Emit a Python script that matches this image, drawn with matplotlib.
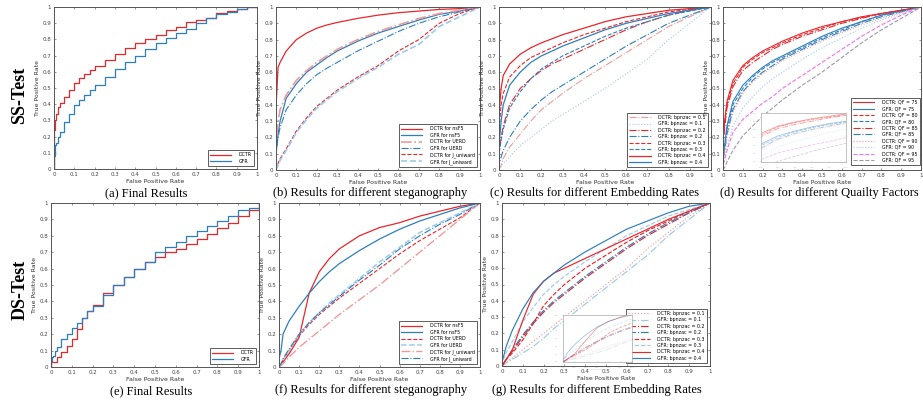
import matplotlib
matplotlib.use("Agg")
import matplotlib.pyplot as plt

W, H = 923, 405

# colours
RED = "#e8262b"
BLUE = "#2e7ebf"
LRED = "#f29a9a"
LBLUE = "#9dcbea"
MAG = "#f070f0"
GRAY = "#9a9aae"

# ---- data ----
# fine grid for the two "Final Results" panels
fpr_fine = [0, 0, 0.005, 0.01, 0.02, 0.03, 0.05, 0.075, 0.1, 0.125, 0.15, 0.175, 0.2,
            0.25, 0.3, 0.35, 0.4, 0.45, 0.5, 0.55, 0.6, 0.65, 0.7, 0.75, 0.8, 0.85,
            0.9, 0.95, 1.0]
# coarse grid for the other panels
fpr = [0, 0, 0.01, 0.02, 0.05, 0.1, 0.15, 0.2, 0.25, 0.3, 0.4, 0.5, 0.6, 0.7, 0.8, 0.9, 1.0]

# (a) SS final
a_dctr = [0, 0.24, 0.3, 0.34, 0.38, 0.41, 0.445, 0.49, 0.53, 0.56, 0.585, 0.61, 0.635,
          0.675, 0.71, 0.745, 0.775, 0.805, 0.83, 0.855, 0.877, 0.905, 0.92, 0.935,
          0.96, 0.975, 0.985, 1.0, 1.0]
a_gfr = [0, 0.08, 0.15, 0.16, 0.2, 0.23, 0.29, 0.34, 0.395, 0.425, 0.455, 0.485, 0.517,
         0.57, 0.62, 0.66, 0.70, 0.74, 0.775, 0.81, 0.84, 0.865, 0.9, 0.93, 0.955,
         0.97, 0.985, 1.0, 1.0]

# (b) SS steganography
b_dctr_nsf5 = [0, 0.38, 0.63, 0.66, 0.73, 0.8, 0.84, 0.87, 0.89, 0.905, 0.93, 0.95, 0.965, 0.975, 0.985, 0.99, 1.0]
b_gfr_nsf5 = [0, 0.1, 0.22, 0.3, 0.44, 0.53, 0.6, 0.645, 0.69, 0.73, 0.79, 0.84, 0.88, 0.92, 0.955, 0.975, 1.0]
b_dctr_uerd = [0, 0.15, 0.3, 0.37, 0.46, 0.55, 0.61, 0.66, 0.7, 0.74, 0.8, 0.85, 0.89, 0.93, 0.96, 0.98, 1.0]
b_gfr_uerd = [0, 0.1, 0.2, 0.26, 0.37, 0.46, 0.53, 0.585, 0.625, 0.66, 0.73, 0.79, 0.85, 0.9, 0.94, 0.97, 1.0]
b_dctr_juni = [0, 0.0, 0.04, 0.07, 0.13, 0.24, 0.32, 0.39, 0.44, 0.49, 0.57, 0.64, 0.73, 0.8, 0.9, 0.96, 1.0]
b_gfr_juni = [0, 0.0, 0.03, 0.06, 0.12, 0.23, 0.31, 0.38, 0.43, 0.48, 0.56, 0.63, 0.71, 0.77, 0.88, 0.94, 1.0]

# (c) SS embedding rates
c_dctr_01 = [0, 0.0, 0.03, 0.07, 0.14, 0.22, 0.3, 0.37, 0.42, 0.47, 0.56, 0.64, 0.72, 0.8, 0.88, 0.94, 1.0]
c_gfr_01 = [0, 0.0, 0.02, 0.04, 0.08, 0.15, 0.2, 0.25, 0.3, 0.34, 0.42, 0.5, 0.59, 0.68, 0.8, 0.9, 1.0]
c_dctr_02 = [0, 0.1, 0.2, 0.27, 0.4, 0.5, 0.56, 0.61, 0.65, 0.68, 0.74, 0.8, 0.86, 0.91, 0.95, 0.98, 1.0]
c_gfr_02 = [0, 0.03, 0.08, 0.12, 0.2, 0.3, 0.37, 0.43, 0.48, 0.52, 0.6, 0.68, 0.76, 0.83, 0.9, 0.95, 1.0]
c_dctr_03 = [0, 0.25, 0.4, 0.47, 0.57, 0.64, 0.69, 0.72, 0.75, 0.78, 0.83, 0.87, 0.91, 0.94, 0.97, 0.985, 1.0]
c_gfr_03 = [0, 0.1, 0.18, 0.25, 0.38, 0.48, 0.56, 0.62, 0.66, 0.7, 0.76, 0.82, 0.87, 0.91, 0.95, 0.975, 1.0]
c_dctr_04 = [0, 0.35, 0.5, 0.58, 0.65, 0.71, 0.75, 0.78, 0.805, 0.83, 0.87, 0.91, 0.94, 0.96, 0.98, 0.99, 1.0]
c_gfr_04 = [0, 0.15, 0.3, 0.4, 0.52, 0.6, 0.66, 0.7, 0.73, 0.76, 0.81, 0.86, 0.9, 0.93, 0.96, 0.98, 1.0]

# (d) SS quality factors
d_dctr_75 = [0, 0.2, 0.32, 0.42, 0.55, 0.64, 0.69, 0.73, 0.76, 0.79, 0.84, 0.88, 0.91, 0.94, 0.96, 0.98, 1.0]
d_gfr_75 = [0, 0.08, 0.17, 0.27, 0.42, 0.52, 0.58, 0.63, 0.67, 0.7, 0.76, 0.82, 0.87, 0.91, 0.95, 0.975, 1.0]
d_dctr_80 = [0, 0.18, 0.3, 0.4, 0.53, 0.63, 0.68, 0.72, 0.75, 0.78, 0.83, 0.87, 0.91, 0.935, 0.96, 0.98, 1.0]
d_gfr_80 = [0, 0.07, 0.15, 0.25, 0.4, 0.5, 0.57, 0.62, 0.66, 0.69, 0.75, 0.81, 0.86, 0.91, 0.95, 0.975, 1.0]
d_dctr_85 = [0, 0.15, 0.28, 0.38, 0.51, 0.61, 0.66, 0.7, 0.74, 0.77, 0.82, 0.86, 0.9, 0.93, 0.96, 0.98, 1.0]
d_gfr_85 = [0, 0.06, 0.13, 0.22, 0.37, 0.48, 0.55, 0.6, 0.64, 0.68, 0.74, 0.8, 0.85, 0.9, 0.94, 0.97, 1.0]
d_dctr_90 = [0, 0.05, 0.12, 0.2, 0.35, 0.47, 0.54, 0.59, 0.63, 0.67, 0.73, 0.79, 0.84, 0.89, 0.93, 0.965, 1.0]
d_gfr_90 = [0, 0.03, 0.08, 0.14, 0.27, 0.38, 0.45, 0.51, 0.56, 0.6, 0.68, 0.75, 0.81, 0.87, 0.92, 0.96, 1.0]
d_dctr_95 = [0, 0.03, 0.07, 0.12, 0.23, 0.31, 0.36, 0.41, 0.45, 0.5, 0.58, 0.66, 0.74, 0.82, 0.89, 0.95, 1.0]
d_gfr_95 = [0, 0.0, 0.02, 0.05, 0.12, 0.21, 0.27, 0.33, 0.38, 0.43, 0.52, 0.6, 0.69, 0.78, 0.86, 0.93, 1.0]

# (e) DS final
e_dctr = [0, 0.03, 0.03, 0.03, 0.03, 0.06, 0.09, 0.13, 0.17, 0.23, 0.3, 0.34, 0.38,
          0.45, 0.5, 0.55, 0.6, 0.64, 0.67, 0.70, 0.72, 0.75, 0.78, 0.81, 0.845,
          0.88, 0.92, 0.955, 1.0]
e_gfr = [0, 0.03, 0.06, 0.07, 0.1, 0.12, 0.17, 0.2, 0.24, 0.27, 0.3, 0.34, 0.37,
         0.44, 0.5, 0.55, 0.6, 0.64, 0.7, 0.73, 0.76, 0.8, 0.83, 0.86, 0.89,
         0.92, 0.96, 0.97, 1.0]

# (f) DS steganography
f_dctr_nsf5 = [0, 0.0, 0.02, 0.03, 0.08, 0.18, 0.45, 0.58, 0.66, 0.72, 0.8, 0.85, 0.88, 0.92, 0.95, 0.98, 1.0]
f_gfr_nsf5 = [0, 0.05, 0.1, 0.2, 0.28, 0.37, 0.45, 0.52, 0.58, 0.63, 0.71, 0.78, 0.84, 0.89, 0.93, 0.97, 1.0]
f_dctr_uerd = [0, 0.0, 0.02, 0.04, 0.1, 0.19, 0.26, 0.32, 0.37, 0.42, 0.51, 0.6, 0.69, 0.77, 0.84, 0.91, 1.0]
f_gfr_uerd = [0, 0.0, 0.02, 0.04, 0.1, 0.2, 0.27, 0.33, 0.39, 0.44, 0.54, 0.64, 0.73, 0.82, 0.88, 0.94, 1.0]
f_dctr_juni = [0, 0.0, 0.01, 0.02, 0.06, 0.12, 0.17, 0.22, 0.27, 0.32, 0.41, 0.5, 0.6, 0.7, 0.8, 0.9, 1.0]
f_gfr_juni = [0, 0.0, 0.02, 0.05, 0.11, 0.2, 0.27, 0.33, 0.38, 0.43, 0.53, 0.62, 0.72, 0.8, 0.87, 0.93, 1.0]

# (g) DS embedding rates
g_dctr_01 = [0, 0.0, 0.01, 0.02, 0.05, 0.1, 0.15, 0.2, 0.25, 0.3, 0.4, 0.5, 0.6, 0.72, 0.82, 0.92, 1.0]
g_gfr_01 = [0, 0.0, 0.01, 0.02, 0.04, 0.08, 0.12, 0.17, 0.23, 0.28, 0.38, 0.48, 0.58, 0.68, 0.8, 0.9, 1.0]
g_dctr_02 = [0, 0.0, 0.02, 0.04, 0.09, 0.18, 0.26, 0.33, 0.39, 0.44, 0.54, 0.63, 0.72, 0.8, 0.87, 0.94, 1.0]
g_gfr_02 = [0, 0.0, 0.02, 0.04, 0.1, 0.19, 0.27, 0.34, 0.4, 0.45, 0.55, 0.64, 0.73, 0.81, 0.88, 0.94, 1.0]
g_dctr_03 = [0, 0.0, 0.02, 0.04, 0.08, 0.16, 0.26, 0.37, 0.44, 0.5, 0.6, 0.68, 0.76, 0.83, 0.89, 0.95, 1.0]
g_gfr_03 = [0, 0.02, 0.05, 0.08, 0.15, 0.27, 0.36, 0.44, 0.5, 0.55, 0.64, 0.72, 0.8, 0.86, 0.92, 0.96, 1.0]
g_dctr_04 = [0, 0.0, 0.02, 0.04, 0.1, 0.28, 0.44, 0.52, 0.57, 0.6, 0.66, 0.72, 0.78, 0.84, 0.9, 0.95, 1.0]
g_gfr_04 = [0, 0.03, 0.07, 0.12, 0.22, 0.35, 0.45, 0.52, 0.57, 0.62, 0.7, 0.77, 0.84, 0.89, 0.94, 0.98, 1.0]

captions = ["(a) Final Results", "(b) Results for different steganography",
            "(c) Results for different Embedding Rates", "(d) Results for different Quailty Factors",
            "(e) Final Results", "(f) Results for different steganography",
            "(g) Results for different Embedding Rates"]


def rect(x0, y0, x1, y1):
    return [x0 / W, 1 - y1 / H, (x1 - x0) / W, (y1 - y0) / H]


def style_ax(ax):
    ax.set_xlim(0, 1)
    ax.set_ylim(0, 1)
    ticks = [i / 10 for i in range(11)]
    labels = ["0", "0.1", "0.2", "0.3", "0.4", "0.5", "0.6", "0.7", "0.8", "0.9", "1"]
    ax.set_xticks(ticks)
    ax.set_yticks(ticks)
    ax.set_xticklabels(labels)
    ax.set_yticklabels(labels)
    ax.tick_params(direction="in", length=1.5, width=0.4, labelsize=4, colors="#444444",
                   top=True, right=True, pad=2)
    for s in ax.spines.values():
        s.set_color("#555555")
        s.set_linewidth(0.7)
    ax.set_xlabel("False Positive Rate", fontsize=4.5, labelpad=1.5, color="#333333")
    ax.set_ylabel("True Positive Rate", fontsize=4.5, labelpad=2, color="#333333")


def add_legend(ax, anchor=None):
    kw = dict(loc="lower right", fontsize=3.4, handlelength=4.5, labelspacing=0.3,
              borderaxespad=0.6, frameon=True, fancybox=False, borderpad=0.5,
              handletextpad=1.6)
    if anchor is not None:
        kw["bbox_to_anchor"] = anchor
        kw["bbox_transform"] = fig.transFigure
        kw["borderaxespad"] = 0
    leg = ax.legend(**kw)
    leg.get_frame().set_edgecolor("#333333")
    leg.get_frame().set_linewidth(0.7)


def add_inset(rc, curves, xl, yl):
    ins = fig.add_axes(rc)
    for y, c, ls in curves:
        ins.plot(fpr, y, color=c, ls=ls, lw=0.6, alpha=0.45)
    ins.set_xlim(*xl)
    ins.set_ylim(*yl)
    ins.tick_params(direction="in", length=1, width=0.3, labelsize=1.5, colors="#bbbbbb")
    for s in ins.spines.values():
        s.set_color("#aaaaaa")
        s.set_linewidth(0.5)
    ins.set_xlabel("False Positive Rate", fontsize=1.5, labelpad=0.5, color="#bbbbbb")


fig = plt.figure(figsize=(W / 100, H / 100), dpi=100)

# ---------- (a) ----------
ax = fig.add_axes(rect(54, 7, 257, 169))
ax.plot(fpr_fine, a_dctr, color=RED, lw=0.9, drawstyle="steps-post", label="DCTR")
ax.plot(fpr_fine, a_gfr, color=BLUE, lw=0.9, drawstyle="steps-post", label="GFR")
style_ax(ax)
add_legend(ax)

# ---------- (b) ----------
ax = fig.add_axes(rect(276, 7, 480, 170))
ax.plot(fpr, b_dctr_nsf5, color=RED, lw=0.9, ls="-", label="DCTR for nsF5")
ax.plot(fpr, b_gfr_nsf5, color=BLUE, lw=0.9, ls="-", label="GFR for nsF5")
ax.plot(fpr, b_dctr_uerd, color=LRED, lw=1.2, ls="-.", label="DCTR for UERD")
ax.plot(fpr, b_gfr_uerd, color=BLUE, lw=0.8, ls="-.", label="GFR for UERD")
ax.plot(fpr, b_dctr_juni, color=RED, lw=0.8, ls="--", label="DCTR for J_uniward")
ax.plot(fpr, b_gfr_juni, color=LBLUE, lw=1.2, ls="--", label="GFR for J_uniward")
style_ax(ax)
add_legend(ax)

# ---------- (c) ----------
ax = fig.add_axes(rect(499, 7, 711, 170))
ax.plot(fpr, c_dctr_01, color=LRED, lw=0.8, ls="-.", label="DCTR: bpnzac = 0.1")
ax.plot(fpr, c_gfr_01, color=LBLUE, lw=0.8, ls=":", label="GFR: bpnzac = 0.1")
ax.plot(fpr, c_dctr_02, color=RED, lw=0.8, ls="-.", label="DCTR: bpnzac = 0.2")
ax.plot(fpr, c_gfr_02, color=BLUE, lw=0.8, ls="-.", label="GFR: bpnzac = 0.2")
ax.plot(fpr, c_dctr_03, color=RED, lw=0.8, ls="--", label="DCTR: bpnzac = 0.3")
ax.plot(fpr, c_gfr_03, color=BLUE, lw=0.8, ls="--", label="GFR: bpnzac = 0.3")
ax.plot(fpr, c_dctr_04, color=RED, lw=0.9, ls="-", label="DCTR: bpnzac = 0.4")
ax.plot(fpr, c_gfr_04, color=BLUE, lw=0.9, ls="-", label="GFR: bpnzac = 0.4")
style_ax(ax)
add_legend(ax)

# ---------- (d) ----------
ax = fig.add_axes(rect(723, 7, 921, 170))
d_curves = [
    (d_dctr_75, RED, "-", "DCTR: QF = 75"),
    (d_gfr_75, BLUE, "-", "GFR: QF = 75"),
    (d_dctr_80, RED, "--", "DCTR: QF = 80"),
    (d_gfr_80, BLUE, "--", "GFR: QF = 80"),
    (d_dctr_85, RED, "-.", "DCTR: QF = 85"),
    (d_gfr_85, BLUE, "-.", "GFR: QF = 85"),
    (d_dctr_90, LRED, ":", "DCTR: QF = 90"),
    (d_gfr_90, LBLUE, ":", "GFR: QF = 90"),
    (d_dctr_95, MAG, "--", "DCTR: QF = 95"),
    (d_gfr_95, GRAY, "--", "GFR: QF = 95"),
]
for y, c, ls, lab in d_curves:
    ax.plot(fpr, y, color=c, ls=ls, lw=0.8, label=lab)
style_ax(ax)
add_legend(ax, anchor=(920 / W, 1 - 165 / H))
add_inset(rect(761, 113, 846, 162), [(y, c, ls) for y, c, ls, _ in d_curves],
          (0.05, 0.3), (0.2, 0.8))

# ---------- (e) ----------
ax = fig.add_axes(rect(51, 203, 259, 367))
ax.plot(fpr_fine, e_dctr, color=RED, lw=0.9, drawstyle="steps-post", label="DCTR")
ax.plot(fpr_fine, e_gfr, color=BLUE, lw=0.9, drawstyle="steps-post", label="GFR")
style_ax(ax)
add_legend(ax)

# ---------- (f) ----------
ax = fig.add_axes(rect(279, 203, 480, 367))
ax.plot(fpr, f_dctr_nsf5, color=RED, lw=0.9, ls="-", label="DCTR for nsF5")
ax.plot(fpr, f_gfr_nsf5, color=BLUE, lw=0.9, ls="-", label="GFR for nsF5")
ax.plot(fpr, f_dctr_uerd, color=RED, lw=0.8, ls="--", label="DCTR for UERD")
ax.plot(fpr, f_gfr_uerd, color=LBLUE, lw=1.1, ls="--", label="GFR for UERD")
ax.plot(fpr, f_dctr_juni, color=LRED, lw=1.0, ls="-.", label="DCTR for J_uniward")
ax.plot(fpr, f_gfr_juni, color=BLUE, lw=0.8, ls="-.", label="GFR for J_uniward")
style_ax(ax)
add_legend(ax)

# ---------- (g) ----------
ax = fig.add_axes(rect(502, 203, 710, 366))
g_curves = [
    (g_dctr_01, LRED, ":", "DCTR: bpnzac = 0.1"),
    (g_gfr_01, LBLUE, "-.", "GFR: bpnzac = 0.1"),
    (g_dctr_02, RED, "-.", "DCTR: bpnzac = 0.2"),
    (g_gfr_02, BLUE, "-.", "GFR: bpnzac = 0.2"),
    (g_dctr_03, RED, "--", "DCTR: bpnzac = 0.3"),
    (g_gfr_03, LBLUE, "--", "GFR: bpnzac = 0.3"),
    (g_dctr_04, RED, "-", "DCTR: bpnzac = 0.4"),
    (g_gfr_04, BLUE, "-", "GFR: bpnzac = 0.4"),
]
for y, c, ls, lab in g_curves:
    ax.plot(fpr, y, color=c, ls=ls, lw=0.85, label=lab)
style_ax(ax)
add_legend(ax)
add_inset(rect(563, 315, 632, 362), [(y, c, ls) for y, c, ls, _ in g_curves],
          (0.0, 0.3), (0.0, 0.6))

# ---------- captions & row labels ----------
cap_pos = [(146, 193), (370, 193), (595, 193), (819, 193), (151, 391), (371, 390), (597, 390)]
for (cx, cy), txt in zip(cap_pos, captions):
    fig.text(cx / W, 1 - cy / H, txt, ha="center", va="center", fontsize=9,
             family="Liberation Serif",
             bbox=dict(facecolor="white", edgecolor="none", pad=0.5))

fig.text(20 / W, 1 - 95 / H, "SS-Test", rotation=90, ha="center", va="center",
         fontsize=13, fontweight="bold", family="Liberation Serif")
fig.text(20 / W, 1 - 290 / H, "DS-Test", rotation=90, ha="center", va="center",
         fontsize=13, fontweight="bold", family="Liberation Serif")

fig.savefig("out.png", dpi=100)
